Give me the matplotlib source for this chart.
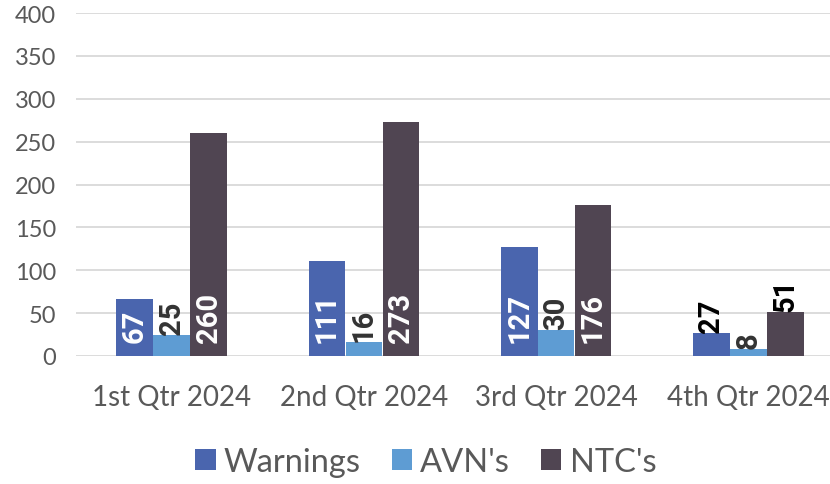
import matplotlib
matplotlib.use("Agg")
import matplotlib.pyplot as plt
import numpy as np

quarters = ["1st Qtr 2024", "2nd Qtr 2024", "3rd Qtr 2024", "4th Qtr 2024"]
series_names = ["Warnings", "AVN's", "NTC's"]
warnings = [67, 111, 127, 27]
avns = [25, 16, 30, 8]
ntcs = [260, 273, 176, 51]

colors = ["#4A65AE", "#5E9CD3", "#504552"]
outside_colors = ["#000000", "#333333", "#000000"]

plt.rcParams["font.family"] = ["Lato", "DejaVu Sans"]

fig = plt.figure(figsize=(8.3, 4.85), dpi=100)
ax = fig.add_axes([0.091, 0.264, 0.9265, 0.707])

x = np.arange(len(quarters))
width = 0.192
offsets = [-width, 0, width]

for vals, name, col, ocol, off in zip([warnings, avns, ntcs], series_names,
                                      colors, outside_colors, offsets):
    ax.bar(x + off, vals, width * 0.99, color=col, label=name, zorder=3)
    for xi, v in zip(x, vals):
        if v >= 60:
            # fits inside: white label at base
            ax.text(xi + off, 16, str(v), rotation=90, ha="center", va="bottom",
                    color="white", fontsize=21, fontweight="bold",
                    family=["Roboto", "DejaVu Sans"], zorder=4)
        else:
            ax.text(xi + off, v + 1, str(v), rotation=90, ha="center", va="bottom",
                    color=ocol, fontsize=21, fontweight="bold",
                    family=["Roboto", "DejaVu Sans"], zorder=4)

ax.set_xlim(-0.5, 3.5)
ax.set_ylim(0, 400)
ax.set_yticks(range(0, 401, 50))
ax.set_xticks(x)
ax.set_xticklabels(quarters)
ax.yaxis.grid(True, color="#D9D9D9", linewidth=1.3, zorder=0)
ax.set_axisbelow(True)
for s in ax.spines.values():
    s.set_visible(False)
ax.tick_params(axis="both", length=0)
ax.tick_params(axis="y", labelsize=17, labelcolor="#595959", pad=14)
ax.tick_params(axis="x", labelsize=20, labelcolor="#595959", pad=20)

fig.legend(loc="center", bbox_to_anchor=(0.513, 0.045), ncol=3, frameon=False,
           fontsize=23.5, labelcolor="#595959", handlelength=0.62, handleheight=0.62,
           handletextpad=0.25, columnspacing=0.95)

fig.savefig("out.png", dpi=100)
